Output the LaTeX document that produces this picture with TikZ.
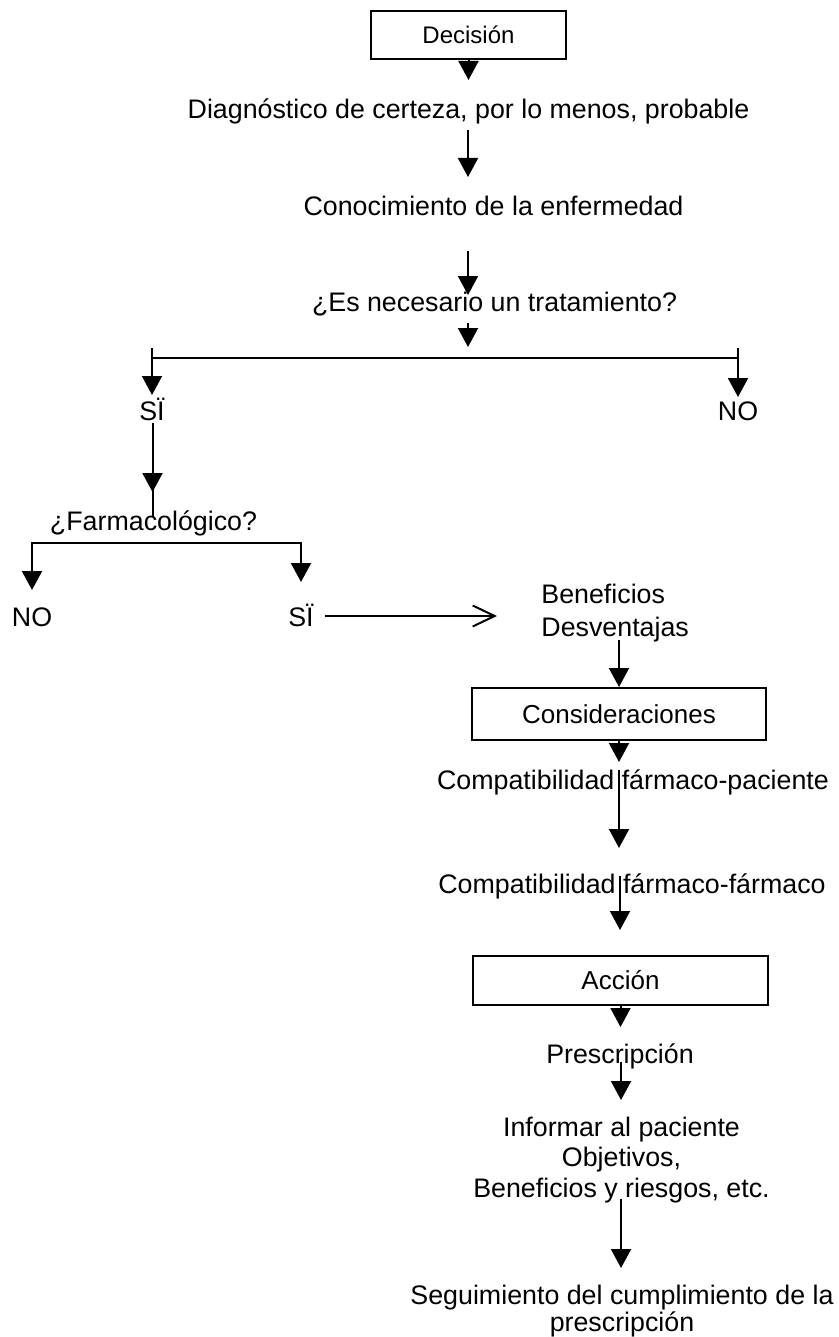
\documentclass[tikz,border=0pt]{standalone}
\usepackage{fontspec}
\setmainfont{Liberation Sans}
\usetikzlibrary{arrows.meta}
\begin{document}
\begin{tikzpicture}[x=0.5pt,y=-0.5pt,
  t/.style={font=\fontsize{13.4}{15.25}\selectfont, inner sep=0pt, anchor=base, align=center},
  box/.style={draw, line width=1pt, inner sep=0pt, font=\fontsize{13}{15}\selectfont},
  ln/.style={line width=1pt},
  arr/.style={line width=1pt, -{Triangle[width=10pt,length=9.5pt]}},
  barb/.style={line width=1pt, -{Straight Barb[length=11pt,width=10.5pt]}}]
\useasboundingbox (0,0) rectangle (839,1337);
\fill[white] (0,0) rectangle (839,1337);

% nodes
\node[box, minimum width=97.5pt, minimum height=24pt, font=\fontsize{12}{14}\selectfont] (dec) at (468.5,35) {Decisión};
\node[t] (diag) at (468.5,119) {Diagnóstico de certeza, por lo menos, probable};
\node[t] (cono) at (493.5,215) {Conocimiento de la enfermedad};
\node[t] (trat) at (494.5,311) {¿Es necesario un tratamiento?};
\node[t] (si1) at (152,420) {SÏ};
\node[t] (no1) at (738,420) {NO};
\node[t] (farm) at (153.5,530) {¿Farmacológico?};
\node[t] (no2) at (32,626) {NO};
\node[t] (si2) at (301,626) {SÏ};
\node[t, anchor=base west] (ben) at (541,603) {Beneficios};
\node[t, anchor=base west] (des) at (541,636) {Desventajas};
\node[box, minimum width=147pt, minimum height=26pt] (cons) at (619,714) {Consideraciones};
\node[t] (cp) at (633,789) {Compatibilidad fármaco-paciente};
\node[t] (cf) at (632,893) {Compatibilidad fármaco-fármaco};
\node[box, minimum width=147.5pt, minimum height=24.5pt] (acc) at (620.5,980.5) {Acción};
\node[t] (pre) at (620,1063) {Prescripción};
\node[t] (inf) at (621.5,1197) {Informar al paciente\\Objetivos,\\Beneficios y riesgos, etc.};
\node[t] (seg) at (622,1331) {Seguimiento del cumplimiento de la\\[-1.75pt]prescripción};

% coordinates
\coordinate (e1) at (468.5,80);
\coordinate (s2) at (468,130);   \coordinate (e2) at (468,177);
\coordinate (s3) at (468,251);   \coordinate (e3) at (468,295);
\coordinate (s4) at (468,323);   \coordinate (e4) at (468,347);
\coordinate (hl) at (152,358);   \coordinate (hr) at (738,358);
\coordinate (tl) at (152,348);   \coordinate (tr) at (738,348);
\coordinate (el) at (152,395);   \coordinate (er) at (738,397);
\coordinate (s5) at (152.5,423); \coordinate (e5) at (152.5,492); \coordinate (f5) at (152.5,517);
\coordinate (fl) at (32,590);    \coordinate (fl0) at (32,543);
\coordinate (fr0) at (301,543);  \coordinate (fr) at (301,582);
\coordinate (s6) at (325,616);   \coordinate (e6) at (497,616);
\coordinate (s7) at (619,640);
\coordinate (e8) at (619,762);
\coordinate (s9) at (619,770);   \coordinate (e9) at (619,848);
\coordinate (s10) at (620,876);  \coordinate (e10) at (620,930);
\coordinate (e11) at (620.5,1027);
\coordinate (s12) at (621,1062); \coordinate (e12) at (621,1100);
\coordinate (s13) at (621,1199); \coordinate (e13) at (621,1268);

% connectors
\draw[arr] (dec.south) -- (e1);
\draw[arr] (s2) -- (e2);
\draw[arr] (s3) -- (e3);
\draw[arr] (s4) -- (e4);
\draw[ln] (hl) -- (hr);
\draw[arr] (tl) -- (el);
\draw[arr] (tr) -- (er);
\draw[ln] (s5) -- (f5);
\draw[arr] (s5) -- (e5);
\draw[line width=1pt, {Triangle[width=10pt,length=9.5pt]}-{Triangle[width=10pt,length=9.5pt]}] (fl) -- (fl0) -- (fr0) -- (fr);
\draw[barb] (s6) -- (e6);
\draw[arr] (s7) -- (cons.north);
\draw[arr] (cons.south) -- (e8);
\draw[arr] (s9) -- (e9);
\draw[arr] (s10) -- (e10);
\draw[arr] (acc.south) -- (e11);
\draw[arr] (s12) -- (e12);
\draw[arr] (s13) -- (e13);
\end{tikzpicture}
\end{document}
